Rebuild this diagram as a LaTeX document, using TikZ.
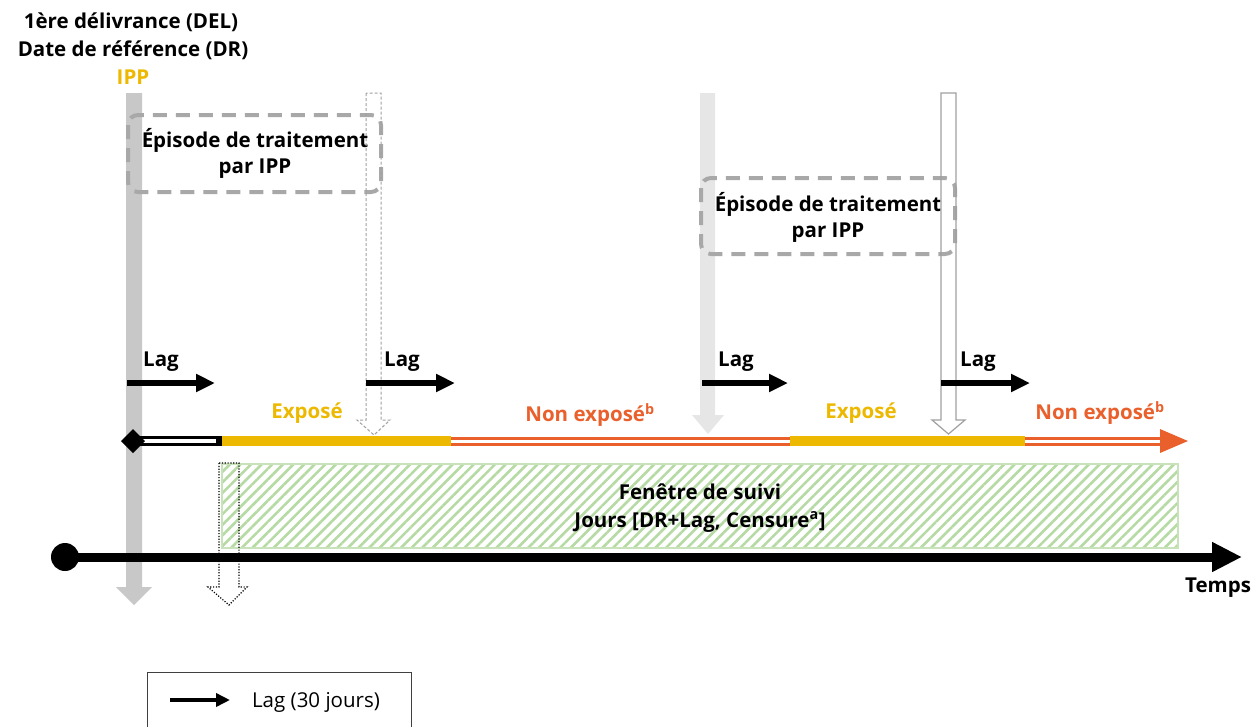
\documentclass[tikz,border=0pt]{standalone}
\usepackage{fontspec}
\setmainfont{Open Sans}
\usetikzlibrary{patterns.meta,arrows.meta}
\definecolor{gold}{RGB}{237,184,0}
\definecolor{orng}{RGB}{234,96,44}
\definecolor{grayA}{RGB}{200,200,200}
\definecolor{grayB}{RGB}{230,230,230}
\definecolor{boxgray}{RGB}{168,168,168}
\definecolor{hollowgray}{RGB}{160,160,160}
\definecolor{hatchcol}{RGB}{182,218,163}
\definecolor{hatchborder}{RGB}{200,226,185}
\begin{document}
\begin{tikzpicture}[x=1pt,y=-1pt,
  font=\bfseries\fontsize{20.5}{24}\selectfont,
  txt/.style={inner sep=0pt, anchor=center},
  lagarrow/.style={line width=6pt,-{Triangle[length=19pt,width=17pt]}},
  episodebox/.style={draw=boxgray, line width=4pt, dash pattern=on 14pt off 9pt, rounded corners=10pt},
  hollowdashed/.style={draw=hollowgray, line width=1pt, dash pattern=on 3pt off 2pt},
  hollowsolid/.style={draw=hollowgray, line width=1.2pt},
  hollowdotted/.style={draw=black, line width=1.2pt, dash pattern=on 1.2pt off 1.6pt},
]
\useasboundingbox (0,0) rectangle (1256,726);

% gray vertical arrows
\fill[grayA] (126,93) -- (126,587) -- (116,587) -- (134,605) -- (152,587) -- (142,587) -- (142,93) -- cycle;
\fill[grayB] (700,93) -- (700,415) -- (692,415) -- (708,434) -- (724,415) -- (715,415) -- (715,93) -- cycle;

% title texts
\node[txt] (t1) at (131,22) {1ère délivrance (DEL)};
\node[txt] (t2) at (133,50) {Date de référence (DR)};
\node[txt, text=gold] (t3) at (133,77) {IPP};

% episode boxes
\draw[episodebox] (128,115) rectangle (381,192);
\node[txt, align=center] (ep1) at (255,153) {Épisode de traitement\\[2pt]par IPP};
\draw[episodebox] (701,178) rectangle (955,254);
\node[txt, align=center] (ep2) at (828,217) {Épisode de traitement\\[2pt]par IPP};

% hollow arrows
\draw[hollowdashed] (366,93) -- (366,420) -- (357,420) -- (374,435) -- (390,420) -- (381,420) -- (381,93) -- cycle;
\draw[hollowsolid] (941,93) -- (941,420) -- (932,420) -- (948.5,434) -- (965,420) -- (956,420) -- (956,93) -- cycle;

% lag arrows
\coordinate (l1a) at (127,383); \coordinate (l1b) at (215,383);
\coordinate (l2a) at (366,383); \coordinate (l2b) at (455,383);
\coordinate (l3a) at (702,383); \coordinate (l3b) at (788,383);
\coordinate (l4a) at (941,383); \coordinate (l4b) at (1030,383);
\draw[lagarrow] (l1a) -- (l1b);
\draw[lagarrow] (l2a) -- (l2b);
\draw[lagarrow] (l3a) -- (l3b);
\draw[lagarrow] (l4a) -- (l4b);
\node[txt] (lag1) at (161,362) {Lag};
\node[txt] (lag2) at (402,362) {Lag};
\node[txt] (lag3) at (736,362) {Lag};
\node[txt] (lag4) at (978,362) {Lag};

% exposure labels
\node[txt, text=gold] (ex1) at (307,413) {Exposé};
\node[txt, text=orng] (ne1) at (590,415) {Non exposé\textsuperscript{b}};
\node[txt, text=gold] (ex2) at (861,413) {Exposé};
\node[txt, text=orng] (ne2) at (1100,413) {Non exposé\textsuperscript{b}};

% treatment timeline
\draw[line width=10pt] (133,441) -- (222,441);
\draw[white, line width=3.5pt] (140,441) -- (216,441);
\fill (121,441) -- (133,429) -- (145,441) -- (133,453) -- cycle;
\draw[gold, line width=10pt] (222,441) -- (451,441);
\draw[gold, line width=10pt] (790,441) -- (1025,441);
\draw[orng, line width=9pt] (451,441) -- (790,441);
\draw[white, line width=3pt] (451,441) -- (790,441);
\draw[orng, line width=9pt] (1025,441) -- (1162,441);
\draw[white, line width=3pt] (1025,441) -- (1162,441);
\fill[orng] (1160,429) -- (1188,441) -- (1160,453) -- cycle;

% follow-up window
\fill[pattern={Lines[angle=45,distance=7.5pt,line width=2.6pt]}, pattern color=hatchcol] (222,464) rectangle (1178,548);
\draw[hatchborder, line width=1.2pt] (222,464) rectangle (1178,548);
\node[txt, align=center] (fen) at (700,508) {Fenêtre de suivi\\[4pt]Jours [DR+Lag, Censure\textsuperscript{a}]};

% dotted hollow arrow
\draw[hollowdotted] (219,463) -- (219,587) -- (208,587) -- (229,605) -- (247,587) -- (239,587) -- (239,463) -- cycle;

% time axis
\coordinate (ax0) at (65,557);
\coordinate (ax1) at (1242,557);
\draw[line width=9pt, -{Triangle[length=30pt,width=28pt]}] (ax0) -- (ax1);
\fill (ax0) circle (14);
\node[txt] (temps) at (1218,588) {Temps};

% legend
\draw[black!75, line width=1pt] (147,672) rectangle (411,745);
\coordinate (lga) at (170,700); \coordinate (lgb) at (230,700);
\draw[line width=4.5pt, -{Triangle[length=14pt,width=13pt]}] (lga) -- (lgb);
\node[txt, font=\fontsize{20.5}{24}\selectfont] (leg) at (316,702) {Lag (30 jours)};
\end{tikzpicture}
\end{document}
